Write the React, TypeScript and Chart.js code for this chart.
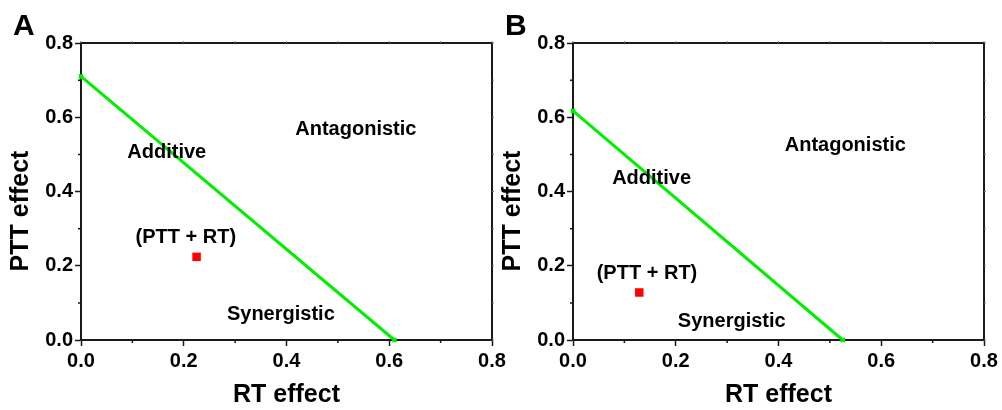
import React, { useEffect, useRef } from 'react';
import { Chart, registerables } from 'chart.js';

Chart.register(...registerables);

const FONT = '"Liberation Sans", Arial, Helvetica, sans-serif';

const panelLabels = ['A', 'B'];
const xAxisTitle = 'RT effect';
const yAxisTitle = 'PTT effect';
const minorTicks = [0.1, 0.3, 0.5, 0.7];
const allTicks = [0, 0.1, 0.2, 0.3, 0.4, 0.5, 0.6, 0.7, 0.8];

// Panel A
const lineXA = [0, 0.61];
const lineYA = [0.71, 0];
const comboXA = [0.225];
const comboYA = [0.224];
// Panel B
const lineXB = [0, 0.525];
const lineYB = [0.617, 0];
const comboXB = [0.129];
const comboYB = [0.128];

const regionLabels = ['Antagonistic', 'Additive', '(PTT + RT)', 'Synergistic'];
const regionXA = [0.535, 0.167, 0.204, 0.389];
const regionYA = [0.568, 0.506, 0.277, 0.07];
const regionXB = [0.53, 0.153, 0.144, 0.309];
const regionYB = [0.525, 0.436, 0.18, 0.051];

const AXIS_COLOR = '#1a1a1a';
const GREEN = '#00ee00';
const RED = '#ff0000';

type PanelProps = {
  left: number;
  width: number;
  yAxisWidth: number;
  rightPad: number;
  label: string;
  lineX: number[];
  lineY: number[];
  comboX: number[];
  comboY: number[];
  regionX: number[];
  regionY: number[];
};

function Panel(p: PanelProps) {
  const ref = useRef<HTMLCanvasElement | null>(null);
  useEffect(() => {
    if (!ref.current) return;
    const decor = {
      id: 'decor',
      afterDraw(chart: any) {
        const ctx = chart.ctx as CanvasRenderingContext2D;
        const { left, right, top, bottom } = chart.chartArea;
        const xs = chart.scales.x;
        const ys = chart.scales.y;
        ctx.save();
        // frame top & right
        ctx.strokeStyle = AXIS_COLOR;
        ctx.lineWidth = 2;
        ctx.beginPath();
        ctx.moveTo(left, top);
        ctx.lineTo(right, top);
        ctx.lineTo(right, bottom);
        ctx.stroke();
        // minor ticks bottom / left
        ctx.lineWidth = 1.5;
        ctx.beginPath();
        minorTicks.forEach((v) => {
          const x = xs.getPixelForValue(v);
          ctx.moveTo(x, bottom);
          ctx.lineTo(x, bottom + 3);
          const y = ys.getPixelForValue(v);
          ctx.moveTo(left, y);
          ctx.lineTo(left - 3, y);
        });
        ctx.stroke();
        // tiny ticks top / right
        ctx.lineWidth = 1;
        ctx.strokeStyle = '#777';
        ctx.beginPath();
        allTicks.forEach((v) => {
          const x = xs.getPixelForValue(v);
          ctx.moveTo(x, top);
          ctx.lineTo(x, top - 2);
          const y = ys.getPixelForValue(v);
          ctx.moveTo(right, y);
          ctx.lineTo(right + 2, y);
        });
        ctx.stroke();
        // region labels
        ctx.fillStyle = '#000';
        ctx.font = `bold 20px ${FONT}`;
        ctx.textAlign = 'center';
        ctx.textBaseline = 'middle';
        regionLabels.forEach((t, i) => {
          ctx.fillText(t, xs.getPixelForValue(p.regionX[i]), ys.getPixelForValue(p.regionY[i]));
        });
        // y axis title
        ctx.save();
        ctx.font = `bold 25px ${FONT}`;
        ctx.translate(left - 59.5, (top + bottom) / 2 + 19.5);
        ctx.rotate(-Math.PI / 2);
        ctx.fillText(yAxisTitle, 0, 0);
        ctx.restore();
        // panel letter
        ctx.font = `bold 30px ${FONT}`;
        ctx.textAlign = 'left';
        ctx.textBaseline = 'alphabetic';
        ctx.fillText(p.label, left - 68, top - 8);
        ctx.restore();
      },
    };

    const tickFont = { family: FONT, size: 20, weight: 'bold' as const };
    const chart = new Chart(ref.current, {
      type: 'scatter',
      data: {
        datasets: [
          {
            data: p.lineX.map((x, i) => ({ x, y: p.lineY[i] })),
            showLine: true,
            borderColor: GREEN,
            backgroundColor: GREEN,
            borderWidth: 3,
            pointStyle: 'rect',
            pointRadius: 3.2,
            pointBorderWidth: 0,
            clip: false as any,
          },
          {
            data: p.comboX.map((x, i) => ({ x, y: p.comboY[i] })),
            showLine: false,
            borderColor: RED,
            backgroundColor: RED,
            pointStyle: 'rect',
            pointRadius: 6,
            pointBorderWidth: 0,
          },
        ],
      },
      options: {
        animation: false,
        responsive: false,
        maintainAspectRatio: false,
        events: [],
        layout: { padding: { top: 43, right: p.rightPad, left: 0, bottom: 0 } },
        plugins: { legend: { display: false }, tooltip: { enabled: false } },
        scales: {
          x: {
            type: 'linear',
            min: 0,
            max: 0.8,
            ticks: {
              stepSize: 0.2,
              color: '#000',
              font: tickFont,
              padding: 3,
              maxRotation: 0,
              autoSkip: false,
              callback: (v: any) => Number(v).toFixed(1),
            },
            grid: {
              drawOnChartArea: false,
              drawTicks: true,
              tickLength: 6,
              tickWidth: 1.5,
              tickColor: AXIS_COLOR,
            },
            border: { display: true, color: AXIS_COLOR, width: 2 },
            title: {
              display: true,
              text: xAxisTitle,
              color: '#000',
              font: { family: FONT, size: 25, weight: 'bold' },
              padding: { top: 0, bottom: 0 },
            },
            afterFit: (s: any) => {
              s.height = 70;
            },
          },
          y: {
            type: 'linear',
            min: 0,
            max: 0.8,
            ticks: {
              stepSize: 0.2,
              color: '#000',
              font: tickFont,
              padding: 2,
              autoSkip: false,
              callback: (v: any) => Number(v).toFixed(1),
            },
            grid: {
              drawOnChartArea: false,
              drawTicks: true,
              tickLength: 6,
              tickWidth: 1.5,
              tickColor: AXIS_COLOR,
            },
            border: { display: true, color: AXIS_COLOR, width: 2 },
            afterFit: (s: any) => {
              s.width = p.yAxisWidth;
            },
          },
        },
      },
      plugins: [decor],
    } as any);
    return () => chart.destroy();
  }, []);
  return (
    <canvas
      ref={ref}
      width={p.width}
      height={410}
      style={{ position: 'absolute', left: p.left, top: 0, width: p.width, height: 410 }}
    />
  );
}

export default function App() {
  useEffect(() => {
    document.body.style.margin = '0';
  }, []);
  return (
    <div style={{ position: 'absolute', left: 0, top: 0, width: 1002, height: 410, background: '#fff', overflow: 'hidden' }}>
      <Panel
        left={0}
        width={510}
        yAxisWidth={81}
        rightPad={18}
        label={panelLabels[0]}
        lineX={lineXA}
        lineY={lineYA}
        comboX={comboXA}
        comboY={comboYA}
        regionX={regionXA}
        regionY={regionYA}
      />
      <Panel
        left={490}
        width={512}
        yAxisWidth={83}
        rightPad={18}
        label={panelLabels[1]}
        lineX={lineXB}
        lineY={lineYB}
        comboX={comboXB}
        comboY={comboYB}
        regionX={regionXB}
        regionY={regionYB}
      />
    </div>
  );
}
